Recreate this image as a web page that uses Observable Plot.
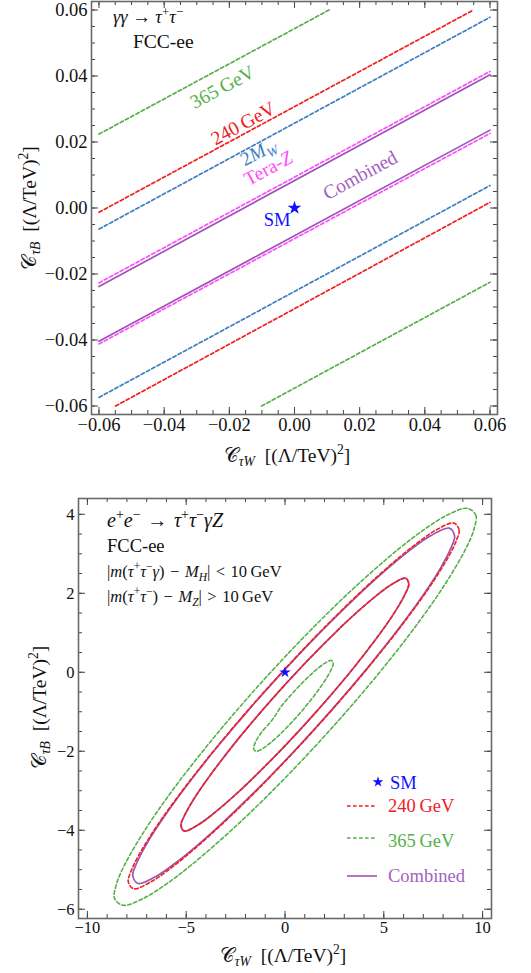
<!DOCTYPE html>
<html><head><meta charset="utf-8">
<script src="https://cdn.jsdelivr.net/npm/d3@7"></script>
<script src="https://cdn.jsdelivr.net/npm/@observablehq/plot@0.6"></script>
<style>
body{margin:0;background:#fff;}
#chart{width:531px;}
#chart svg{display:block;}
#chart svg text{font-family:'Liberation Serif','Times New Roman',serif;}
</style></head><body><div id="chart"></div>
<script>
// ---------- DATA: top panel (γγ → τ+τ−), band edges as [x, y] endpoints ----------
const topTicks = [-0.06, -0.04, -0.02, 0, 0.02, 0.04, 0.06];
const line365Upper = [[-0.06, 0.0224], [0.0106, 0.06]];
const line365Lower = [[-0.0101, -0.06], [0.06, -0.0225]];
const line240Upper = [[-0.06, -0.0013], [0.0549, 0.06]];
const line240Lower = [[-0.0549, -0.06], [0.06, 0.0017]];
const line2MWUpper = [[-0.06, -0.0064], [0.06, 0.0578]];
const line2MWLower = [[-0.06, -0.0574], [0.06, 0.0068]];
const lineTeraZUpper = [[-0.06, -0.0227], [0.06, 0.0414]];
const lineTeraZLower = [[-0.06, -0.0412], [0.06, 0.0226]];
const lineCombUpper = [[-0.06, -0.0238], [0.06, 0.0404]];
const lineCombLower = [[-0.06, -0.0404], [0.06, 0.0236]];
const smPoint = [0, 0];
// label anchor points (data units) for the in-plot line labels
const topLabelAt = {"365": [-0.022, 0.0365], "240": [-0.0156, 0.0255], "2MW": [-0.011, 0.0168], "TeraZ": [-0.0079, 0.0119], "Comb": [0.0203, 0.0098], "SM": [-0.0052, -0.0038]};

// ---------- DATA: bottom panel (e+e− → τ+τ−γZ), contour points [x, y] ----------
const botXTicks = [-10, -5, 0, 5, 10];
const botYTicks = [4, 2, 0, -2, -4, -6];
const ringCombOuter = [[8.315,3.65],[8.584,3.45],[8.402,3.15],[7.885,2.65],[7.255,2.15],[5.821,1.15],[4.237,0.15],[2.54,-0.85],[0.737,-1.85],[-1.179,-2.85],[-3.245,-3.85],[-4.365,-4.35],[-5.598,-4.85],[-6.466,-5.15],[-7.435,-5.35],[-7.704,-5.15],[-7.522,-4.85],[-7.005,-4.35],[-6.375,-3.85],[-4.941,-2.85],[-3.357,-1.85],[-1.66,-0.85],[0.143,0.15],[2.059,1.15],[4.125,2.15],[5.245,2.65],[6.478,3.15],[7.346,3.45]];
const ringCombInner = [[6.1,2.38],[6.2615,2.23],[6.078,1.98],[5.626,1.58],[5.093,1.18],[3.58,0.18],[1.9,-0.82],[0.08,-1.82],[-1.907,-2.82],[-2.774,-3.22],[-3.722,-3.62],[-4.4135,-3.87],[-5.1,-4.02],[-5.2615,-3.87],[-5.078,-3.62],[-4.626,-3.22],[-4.093,-2.82],[-2.58,-1.82],[-0.9,-0.82],[0.92,0.18],[2.907,1.18],[3.774,1.58],[4.722,1.98],[5.4135,2.23]];
const ring240Outer = [[8.5425,3.78],[8.8125,3.6],[8.682,3.35],[8.301,2.95],[7.305,2.15],[5.852,1.15],[4.26,0.15],[2.56,-0.85],[0.76,-1.85],[-1.148,-2.85],[-3.195,-3.85],[-4.999,-4.65],[-6.018,-5.05],[-6.7625,-5.3],[-7.6625,-5.48],[-7.9325,-5.3],[-7.802,-5.05],[-7.421,-4.65],[-6.425,-3.85],[-4.972,-2.85],[-3.38,-1.85],[-1.68,-0.85],[0.12,0.15],[2.028,1.15],[4.075,2.15],[5.879,2.95],[6.898,3.35],[7.6425,3.6]];
const ring240Inner = [[6.1,2.38],[6.2615,2.23],[6.078,1.98],[5.626,1.58],[5.093,1.18],[3.58,0.18],[1.9,-0.82],[0.08,-1.82],[-1.907,-2.82],[-2.774,-3.22],[-3.722,-3.62],[-4.4135,-3.87],[-5.1,-4.02],[-5.2615,-3.87],[-5.078,-3.62],[-4.626,-3.22],[-4.093,-2.82],[-2.58,-1.82],[-0.9,-0.82],[0.92,0.18],[2.907,1.18],[3.774,1.58],[4.722,1.98],[5.4135,2.23]];
const ring365Outer = [[9.228,4.15],[9.657,3.975],[9.564,3.625],[9.146,3.125],[7.963,2.125],[6.552,1.125],[4.993,0.125],[3.315,-0.875],[1.525,-1.875],[-0.384,-2.875],[-2.441,-3.875],[-4.726,-4.875],[-6.042,-5.375],[-7.163,-5.725],[-8.198,-5.9],[-8.627,-5.725],[-8.534,-5.375],[-8.116,-4.875],[-6.933,-3.875],[-5.522,-2.875],[-3.963,-1.875],[-2.285,-0.875],[-0.495,0.125],[1.414,1.125],[3.471,2.125],[5.756,3.125],[7.072,3.625],[8.193,3.975]];
const ring365Inner = [[2.3475,0.3],[2.445,0.23],[2.3665,0.1],[2.097,-0.15],[1.6185,-0.5],[1.07,-0.85],[0.4635,-1.2],[-0.213,-1.55],[-0.7685,-1.8],[-1.119,-1.93],[-1.4475,-2.0],[-1.58,-1.95],[-1.52,-1.8],[-1.23,-1.55],[-0.64,-1.2],[-0.17,-0.85],[0.4365,-0.5],[1.113,-0.15],[1.668,0.1],[2.019,0.23]];

// ---------- STYLE ----------
const serif = "'Liberation Serif','Times New Roman',serif";
const col = {g: "#55b048", r: "#f0201e", b: "#3b7fc4", m: "#ff4cff", p: "#9b55b4", pText: "#a262c0", star: "#1010ff", frame: "#6a6a6a"};
const dash = "3.6,2.4";
const sp = "\u2004", thin = "\u2009";

function rich(sel, x, y, parts, o = {}) {
  const size = o.size ?? 17;
  const t = sel.append("text")
    .attr("font-family", serif).attr("font-size", size)
    .attr("fill", o.fill ?? "#111")
    .attr("text-anchor", o.anchor ?? "start");
  if (o.rotate != null) {
    t.attr("transform", `translate(${x},${y}) rotate(${o.rotate})`).attr("x", 0).attr("y", o.center ? 0.33 * size : 0);
  } else {
    t.attr("x", x).attr("y", o.center ? y + 0.33 * size : y);
  }
  let shift = 0;
  for (const p of parts) {
    const [s, st] = Array.isArray(p) ? p : [p, ""];
    const tags = st.split(" ");
    let target = 0, fs = size;
    if (tags.includes("sup")) { target = -0.4 * size; fs = 0.7 * size; }
    if (tags.includes("sub")) { target = 0.22 * size; fs = 0.7 * size; }
    const ts = t.append("tspan").text(s).attr("font-size", fs);
    if (target !== shift) ts.attr("dy", target - shift);
    shift = target;
    if (tags.includes("i")) ts.attr("font-style", "italic");
  }
  return t;
}

function tickMarks(xMajor, xMinor, yMajor, yMinor, fw, fh) {
  const s = {stroke: "#444", strokeWidth: 1};
  return [
    Plot.ruleX(xMinor, {x: d => d, insetTop: fh - 4, ...s}),
    Plot.ruleX(xMinor, {x: d => d, insetBottom: fh - 4, ...s}),
    Plot.ruleX(xMajor, {x: d => d, insetTop: fh - 7, ...s}),
    Plot.ruleX(xMajor, {x: d => d, insetBottom: fh - 7, ...s}),
    Plot.ruleY(yMinor, {y: d => d, insetRight: fw - 4, ...s}),
    Plot.ruleY(yMinor, {y: d => d, insetLeft: fw - 4, ...s}),
    Plot.ruleY(yMajor, {y: d => d, insetRight: fw - 7, ...s}),
    Plot.ruleY(yMajor, {y: d => d, insetLeft: fw - 7, ...s})
  ];
}

const chart = document.getElementById("chart");
const titleParts = sub => ["𝒞", [sub, "i sub"], "\u2002[(Λ/TeV)", ["2", "sup"], "]"];

// ================= TOP PANEL =================
{
  const W = 531, H = 480, mL = 91, mR = 34, mT = 1, mB = 66;
  const fw = W - mL - mR, fh = H - mT - mB;
  const minor = d3.range(-0.06, 0.0601, 0.005);
  const fmt = d3.format(".2f");
  const bands = [
    [line365Upper, col.g, dash], [line365Lower, col.g, dash],
    [line240Upper, col.r, dash], [line240Lower, col.r, dash],
    [line2MWUpper, col.b, dash], [line2MWLower, col.b, dash],
    [lineTeraZUpper, col.m, dash], [lineTeraZLower, col.m, dash],
    [lineCombUpper, col.p, null], [lineCombLower, col.p, null]
  ];
  const plot = Plot.plot({
    width: W, height: H, marginLeft: mL, marginRight: mR, marginTop: mT, marginBottom: mB,
    style: {fontFamily: serif, fontSize: "18.5px", color: "#111", background: "#fff"},
    x: {domain: [-0.0623, 0.0623], label: null},
    y: {domain: [-0.06258, 0.06258], label: null},
    marks: [
      ...bands.map(([d, c, da]) => Plot.line(d, {x: "0", y: "1", stroke: c, strokeWidth: 1.7, strokeDasharray: da ?? undefined})),
      Plot.dot([smPoint], {x: "0", y: "1", symbol: "star", fill: col.star, r: 4.3}),
      ...tickMarks(topTicks, minor, topTicks, minor, fw, fh),
      Plot.axisX(topTicks, {tickSize: 0, tickPadding: 3, tickFormat: fmt, label: null}),
      Plot.axisY(topTicks, {tickSize: 0, tickPadding: 4, tickFormat: fmt, label: null}),
      Plot.frame({stroke: col.frame, strokeWidth: 1.6})
    ]
  });
  chart.appendChild(plot);
  const svg = d3.select(plot);
  const sx = plot.scale("x"), sy = plot.scale("y");
  const at = k => [sx.apply(topLabelAt[k][0]), sy.apply(topLabelAt[k][1])];
  const ang = -28.4, ls = 19.5;
  rich(svg, ...at("365"), ["365" + thin + "GeV"], {fill: col.g, rotate: ang, center: true, anchor: "middle", size: ls});
  rich(svg, ...at("240"), ["240" + thin + "GeV"], {fill: col.r, rotate: ang, center: true, anchor: "middle", size: ls});
  rich(svg, ...at("2MW"), ["2", ["M", "i"], ["W", "i sub"]], {fill: col.b, rotate: ang, center: true, anchor: "middle", size: ls});
  rich(svg, ...at("TeraZ"), ["Tera-", ["Z", "i"]], {fill: col.m, rotate: ang, center: true, anchor: "middle", size: ls});
  rich(svg, ...at("Comb"), ["Combined"], {fill: col.pText, rotate: ang, center: true, anchor: "middle", size: ls});
  rich(svg, ...at("SM"), ["SM"], {fill: col.star, center: true, anchor: "middle", size: 18.5});
  // corner annotation
  rich(svg, 113, 23, [["γγ", "i"], " → ", ["τ", "i"], ["+", "sup"], ["τ", "i"], ["−", "sup"]], {size: 18.5});
  rich(svg, 133, 48, ["FCC-ee"], {size: 19.5});
  // axis titles
  rich(svg, 287, 462, titleParts("τW"), {size: 19.5, anchor: "middle"});
  rich(svg, 36, 208, titleParts("τB"), {size: 19.5, anchor: "middle", rotate: -90});
}

// ================= BOTTOM PANEL =================
{
  const W = 531, H = 493, mL = 78, mR = 40, mT = 18, mB = 55;
  const fw = W - mL - mR, fh = H - mT - mB;
  const xMinor = d3.range(-10, 10.01, 1);
  const yMinor = d3.range(-6, 4.01, 0.5);
  const fmt = d3.format("d");
  const plot = Plot.plot({
    width: W, height: H, marginLeft: mL, marginRight: mR, marginTop: mT, marginBottom: mB,
    style: {fontFamily: serif, fontSize: "16.5px", color: "#111", background: "#fff"},
    x: {domain: [-10.45, 10.45], label: null},
    y: {domain: [-6.235, 4.40], label: null},
    marks: [
      Plot.line(ringCombOuter, {x: "0", y: "1", curve: "catmull-rom-closed", stroke: col.p, strokeWidth: 1.7}),
      Plot.line(ringCombInner, {x: "0", y: "1", curve: "catmull-rom-closed", stroke: col.p, strokeWidth: 1.7}),
      Plot.line(ring240Outer, {x: "0", y: "1", curve: "catmull-rom-closed", stroke: col.r, strokeWidth: 1.6, strokeDasharray: dash}),
      Plot.line(ring240Inner, {x: "0", y: "1", curve: "catmull-rom-closed", stroke: col.r, strokeWidth: 1.6, strokeDasharray: dash}),
      Plot.line(ring365Outer, {x: "0", y: "1", curve: "catmull-rom-closed", stroke: col.g, strokeWidth: 1.6, strokeDasharray: dash}),
      Plot.line(ring365Inner, {x: "0", y: "1", curve: "catmull-rom-closed", stroke: col.g, strokeWidth: 1.6, strokeDasharray: dash}),
      Plot.dot([smPoint], {x: "0", y: "1", symbol: "star", fill: col.star, r: 3.6}),
      ...tickMarks(botXTicks, xMinor, botYTicks, yMinor, fw, fh),
      Plot.axisX(botXTicks, {tickSize: 0, tickPadding: 3, tickFormat: fmt, label: null}),
      Plot.axisY(botYTicks, {tickSize: 0, tickPadding: 4, tickFormat: fmt, label: null}),
      Plot.frame({stroke: col.frame, strokeWidth: 1.6})
    ]
  });
  chart.appendChild(plot);
  const svg = d3.select(plot);
  // annotations
  rich(svg, 107, 47, [["e", "i"], ["+", "sup"], ["e", "i"], ["−", "sup"], sp + "→" + sp, ["τ", "i"], ["+", "sup"], ["τ", "i"], ["−", "sup"], ["γZ", "i"]], {size: 20});
  rich(svg, 107, 71.5, ["FCC-ee"], {size: 18.5});
  rich(svg, 107, 97, ["|", ["m", "i"], "(", ["τ", "i"], ["+", "sup"], ["τ", "i"], ["−", "sup"], ["γ", "i"], ")" + sp + "−" + sp, ["M", "i"], ["H", "i sub"], "|" + sp + "<" + sp + "10" + thin + "GeV"], {size: 16.5});
  rich(svg, 107, 122, ["|", ["m", "i"], "(", ["τ", "i"], ["+", "sup"], ["τ", "i"], ["−", "sup"], ")" + sp + "−" + sp, ["M", "i"], ["Z", "i sub"], "|" + sp + ">" + sp + "10" + thin + "GeV"], {size: 16.5});
  // legend
  const lg = svg.append("g");
  lg.append("path").attr("d", d3.symbol(d3.symbolStar, Math.PI * 3.4 * 3.4)()).attr("transform", "translate(378,302)").attr("fill", col.star);
  rich(lg, 390, 308.5, ["SM"], {fill: col.star, size: 18.5});
  const leg = [["240" + thin + "GeV", col.r, col.r, dash, 326, 332], ["365" + thin + "GeV", col.g, col.g, dash, 358, 366.5], ["Combined", col.pText, col.p, null, 396, 402]];
  for (const [txt, tc, lc, da, ly, ty] of leg) {
    const l = lg.append("line").attr("x1", 347).attr("x2", 377).attr("y1", ly).attr("y2", ly).attr("stroke", lc).attr("stroke-width", 1.6);
    if (da) l.attr("stroke-dasharray", da);
    rich(lg, 388, ty, [txt], {fill: tc, size: 18.5});
  }
  // axis titles
  rich(svg, 283, 482, titleParts("τW"), {size: 19.5, anchor: "middle"});
  rich(svg, 46, 227.5, titleParts("τB"), {size: 19.5, anchor: "middle", rotate: -90});
}
</script></body></html>
